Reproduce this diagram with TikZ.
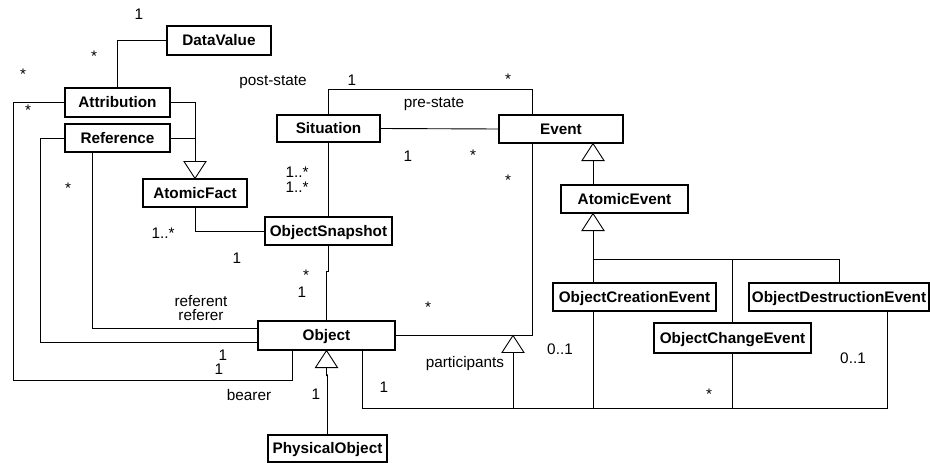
\documentclass[tikz,border=0pt]{standalone}
\usepackage{fontspec}
\setmainfont{Liberation Sans}
\usetikzlibrary{calc}
\begin{document}
\begin{tikzpicture}[x=1pt,y=-1pt,
  cls/.style={draw, line width=1.1pt, rectangle, inner sep=0pt,
    font=\fontsize{15.3}{18}\selectfont\bfseries,
    text height=10.95pt, text depth=0pt},
  conn/.style={draw, line width=0.9pt},
  lbl/.style={inner sep=0pt, font=\fontsize{15.3}{18}\selectfont,
    text height=10.95pt, text depth=0pt, anchor=center},
  mstar/.style={lbl, yshift=-3.2pt},
  gentri/.pic={\draw[line width=0.9pt, fill=white] (0,0) -- (-11,17) -- (11,17) -- cycle;},
  gentridown/.pic={\draw[line width=0.9pt, fill=white] (0,0) -- (-11,-17) -- (11,-17) -- cycle;}]
\useasboundingbox (0,0) rectangle (930,463);

% classes (centre, width, height)
\node[cls, minimum width=104, minimum height=29] (DataValue) at (219,40.5) {DataValue};
\node[cls, minimum width=105, minimum height=29] (Attribution) at (117.5,102.5) {Attribution};
\node[cls, minimum width=105, minimum height=28] (Reference) at (117.5,138) {Reference};
\node[cls, minimum width=104, minimum height=28] (AtomicFact) at (195,193) {AtomicFact};
\node[cls, minimum width=103, minimum height=27] (Situation) at (328.5,128.5) {Situation};
\node[cls, minimum width=124, minimum height=28] (Event) at (561,129) {Event};
\node[cls, minimum width=127, minimum height=28] (ObjectSnapshot) at (328.5,231) {ObjectSnapshot};
\node[cls, minimum width=127, minimum height=28] (AtomicEvent) at (624.5,199) {AtomicEvent};
\node[cls, minimum width=163, minimum height=28] (ObjectCreationEvent) at (634.5,297) {ObjectCreationEvent};
\node[cls, minimum width=180, minimum height=28] (ObjectDestructionEvent) at (839,297) {ObjectDestructionEvent};
\node[cls, minimum width=157, minimum height=30] (ObjectChangeEvent) at (732.5,338) {ObjectChangeEvent};
\node[cls, minimum width=137, minimum height=29] (Object) at (326.5,335.5) {Object};
\node[cls, minimum width=119, minimum height=27] (PhysicalObject) at (327.5,448.5) {PhysicalObject};

% attribution value
\draw[conn] (DataValue.west) -| (Attribution.north);
% bearer
\draw[conn] (Attribution.west) -| (13,380) -| ($(Object.south west)+(35,0)$);
% referer / referent
\draw[conn] (Reference.west) -| (40,342) -- (Object.west |- 0,342);
\draw[conn] ($(Reference.south)+(-25.5,0)$) |- (Object.west |- 0,328);
% AtomicFact specialisations
\draw[conn] (Attribution.east) -| ($(AtomicFact.north)+(0,-17)$);
\draw[conn] (Reference.east) -- (AtomicFact.north |- Reference.east);
\pic at (AtomicFact.north) {gentridown};
% AtomicFact - ObjectSnapshot
\draw[conn] (AtomicFact.south) |- (ObjectSnapshot.west);
% pre-state / post-state
\draw[conn] (Situation.north) |- (532,89) -- ($(Event.north)+(-29,0)$);
\draw[conn] (Situation.east) -- (Event.west);
% Situation - ObjectSnapshot - Object
\draw[conn] (Situation.south) -- (ObjectSnapshot.north);
\draw[conn] (ObjectSnapshot.south) -- (ObjectSnapshot.south |- 0,271)
  -- (Object.north |- 0,271) -- (Object.north);
% participants
\draw[conn] ($(Event.south)+(-29,0)$) |- (Object.east);
% Event hierarchy
\coordinate (evtip) at ($(Event.south)+(32,0)$);
\pic at (evtip) {gentri};
\draw[conn] ($(evtip)+(0,17)$) -- (evtip |- AtomicEvent.north);
\coordinate (aetip) at (evtip |- AtomicEvent.south);
\pic at (aetip) {gentri};
\draw[conn] ($(aetip)+(0,17)$) -- (aetip |- ObjectCreationEvent.north);
\draw[conn] (aetip |- 0,259) -| (ObjectDestructionEvent.north);
\draw[conn] (ObjectChangeEvent.north) -- (ObjectChangeEvent.north |- 0,259);
% object events bus
\draw[conn] ($(Object.south)+(35.5,0)$) |- (887,408) -- (ObjectDestructionEvent.south -| 887,0);
\coordinate (ptip) at (Object.east -| 513,0);
\pic at (ptip) {gentri};
\draw[conn] ($(ptip)+(0,17)$) -- (ptip |- 0,408);
\draw[conn] (aetip |- ObjectCreationEvent.south) -- (aetip |- 0,408);
\draw[conn] (ObjectChangeEvent.south) -- (ObjectChangeEvent.south |- 0,408);
% PhysicalObject specialisation
\pic at (Object.south) {gentri};
\draw[conn] ($(Object.south)+(0,17)$) -- ($(Object.south)+(0,25)$)
  -- (PhysicalObject.north |- 0,375) -- (PhysicalObject.north);

% multiplicities and role names
\node[lbl] (m1) at (139,14) {1};
\node[mstar] (m2) at (94,53) {*};
\node[mstar] (m3) at (23,71) {*};
\node[mstar] (m4) at (28,107) {*};
\node[mstar] (m5) at (68,185) {*};
\node[lbl] (r1) at (273,80) {post-state};
\node[lbl] (m6) at (352,80) {1};
\node[mstar] (m7) at (508,76) {*};
\node[lbl] (r2) at (434,102) {pre-state};
\node[lbl] (m8) at (408,156) {1};
\node[mstar] (m9) at (473,152) {*};
\node[mstar] (m10) at (508,177) {*};
\node[lbl] (m11) at (297,172) {1..*};
\node[lbl] (m12) at (297,187) {1..*};
\node[lbl] (m13) at (163,233) {1..*};
\node[lbl] (m14) at (237,258) {1};
\node[mstar] (m15) at (306,272) {*};
\node[lbl] (m16) at (302,292) {1};
\node[mstar] (m17) at (428,304) {*};
\node[lbl] (r3) at (201,301) {referent};
\node[lbl] (r4) at (201,315) {referer};
\node[lbl] (m18) at (223,355) {1};
\node[lbl] (m19) at (219,369) {1};
\node[lbl] (r5) at (249,395) {bearer};
\node[lbl] (m20) at (316,394) {1};
\node[lbl] (r6) at (465,362) {participants};
\node[lbl] (m21) at (384,387) {1};
\node[lbl] (m22) at (560,349) {0..1};
\node[lbl] (m23) at (853,358) {0..1};
\node[mstar] (m24) at (709,391) {*};
\end{tikzpicture}
\end{document}
